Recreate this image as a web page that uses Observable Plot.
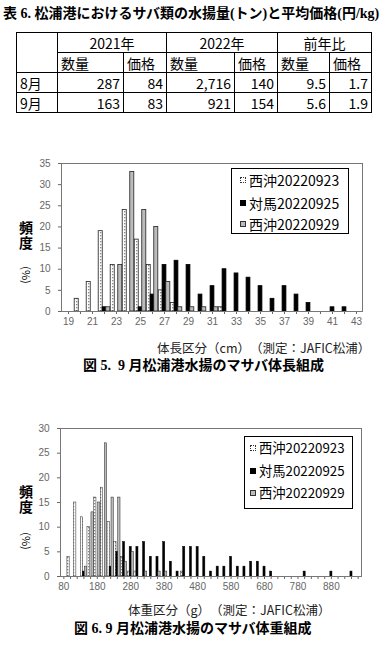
<!DOCTYPE html>
<html><head><meta charset="utf-8">
<script src="https://cdn.jsdelivr.net/npm/d3@7"></script>
<script src="https://cdn.jsdelivr.net/npm/@observablehq/plot@0.6"></script>
<style>
body{margin:0;background:#fff;}
#root{position:relative;width:383px;height:652px;overflow:hidden;font-family:"Noto Sans CJK JP",sans-serif;color:#000;background:#fff}
.abs{position:absolute;white-space:nowrap}
.title{font-family:"Liberation Serif","Noto Sans CJK JP",serif;font-weight:bold}
table{position:absolute;left:16px;top:32px;border-collapse:collapse;table-layout:fixed;font:14px "Noto Sans CJK JP",sans-serif;border:1.5px solid #000}
td{border:1px solid #000;height:19px;padding:0 3px;line-height:18px;white-space:nowrap;overflow:hidden}
td.c{text-align:center}td.r{text-align:right}td.l{text-align:left}
.legend{position:absolute;border:1px solid #000;background:#fff}
.item{position:absolute;left:8px;font:14px "Noto Sans CJK JP",sans-serif;line-height:14px;display:flex;align-items:center;white-space:nowrap}
.legend.small .item{font-size:13.3px;left:5px}
.sw{display:inline-block;width:6px;height:6px;margin-right:3px;box-sizing:border-box;flex:none}
.sw.dots{border:1.5px dotted #333;background:#fff}
.sw.blk{background:#000}
.sw.gry{background:#bbb;border:1px solid #333}
.ylab{position:absolute;writing-mode:vertical-rl;font:bold 14px "Noto Sans CJK JP",sans-serif;line-height:14px;letter-spacing:1px}
.pct{position:absolute;font:11px "Noto Sans CJK JP",sans-serif;transform:translate(-50%,-50%) rotate(90deg);line-height:11px;white-space:nowrap}
.xt{position:absolute;font:12.5px "Noto Sans CJK JP",sans-serif;line-height:13px;color:#222;white-space:nowrap}
</style></head>
<body>
<svg width="0" height="0" style="position:absolute">
  <defs>
    <pattern id="dots" width="3" height="3" patternUnits="userSpaceOnUse">
      <rect width="3" height="3" fill="#fff"/>
      <rect x="1" y="1" width="1.3" height="1.3" fill="#888"/>
    </pattern>
  </defs>
</svg>
<div id="root">
  <div class="abs title" style="left:3px;top:5px;font-size:14px;line-height:18px">表 6. 松浦港におけるサバ類の水揚量(トン)と平均価格(円/kg)</div>
  <table>
    <colgroup><col style="width:41px"><col style="width:66px"><col style="width:43px"><col style="width:68px"><col style="width:43px"><col style="width:52px"><col style="width:42px"></colgroup>
    <tr><td rowspan="2"></td><td class="c" colspan="2">2021年</td><td class="c" colspan="2">2022年</td><td class="c" colspan="2">前年比</td></tr>
    <tr><td class="l">数量</td><td class="l">価格</td><td class="l">数量</td><td class="l">価格</td><td class="l">数量</td><td class="l">価格</td></tr>
    <tr id="r8"></tr>
    <tr id="r9"></tr>
  </table>

  <div id="c1" class="abs" style="left:0;top:150px"></div>
  <div class="ylab" style="left:19px;top:221px">頻度</div>
  <div class="pct" style="left:26px;top:275px">(%)</div>
  <div class="legend" style="left:231px;top:168px;width:116px;height:64px">
    <div class="item" style="top:4px"><span class="sw dots"></span><span class="s1"></span></div>
    <div class="item" style="top:27px"><span class="sw blk"></span><span class="s2"></span></div>
    <div class="item" style="top:48px"><span class="sw gry"></span><span class="s3"></span></div>
  </div>
  <div class="xt" style="left:157px;top:341px">体長区分（cm）　（測定：JAFIC松浦）</div>
  <div class="abs title" style="left:83px;top:357px;font-size:14px;line-height:18px">図 5.&nbsp; 9 月松浦港水揚のマサバ体長組成</div>

  <div id="c2" class="abs" style="left:0;top:415px"></div>
  <div class="ylab" style="left:19px;top:485px">頻度</div>
  <div class="pct" style="left:26px;top:541px">(%)</div>
  <div class="legend small" style="left:244px;top:436px;width:107px;height:71px">
    <div class="item" style="top:4px"><span class="sw dots"></span><span class="s1"></span></div>
    <div class="item" style="top:27px"><span class="sw blk"></span><span class="s2"></span></div>
    <div class="item" style="top:49px"><span class="sw gry"></span><span class="s3"></span></div>
  </div>
  <div class="xt" style="left:128px;top:603px">体重区分（g）　（測定：JAFIC松浦）</div>
  <div class="abs title" style="left:74px;top:620px;font-size:14px;line-height:18px">図 6. 9 月松浦港水揚のマサバ体重組成</div>
</div>
<script>
// ---- table data ----
const months = ["8月", "9月"];
const qty2021 = ["287", "163"];
const price2021 = ["84", "83"];
const qty2022 = ["2,716", "921"];
const price2022 = ["140", "154"];
const qtyRatio = ["9.5", "5.6"];
const priceRatio = ["1.7", "1.9"];

// ---- series names ----
const seriesNames = ["西沖20220923", "対馬20220925", "西沖20220929"];

// ---- Fig 5: body length (cm) ----
const lengthClasses = [19,20,21,22,23,24,25,26,27,28,29,30,31,32,33,34,35,36,37,38,39,40,41,42,43];
const lengthTickLabels = [19,21,23,25,27,29,31,33,35,37,39,41,43];
const nishi0923Len = [0,3,7,19,11,24,17,11,5,2,0,0,0,1,0,0,0,0,0,0,0,0,0,0,0];
const tsushima0925Len = [0,0,0,1,0,0,1,4,11,12,11,4,6,10,9,8,6,3,6,4,2,0,1,1,0];
const nishi0929Len = [0,0,0,1,11,33,24,20,7,1,1,1,1,0,0,0,0,0,0,0,0,0,0,0,0];
const freqTicks1 = [0,5,10,15,20,25,30,35];

// ---- Fig 6: body weight (g) ----
const weightClasses = [80,100,120,140,160,180,200,220,240,260,280,300,320,340,360,380,400,420,440,460,480,500,520,540,560,580,600,620,640,660,680,700,720,740,760,780,800,820,840,860,880,900,920,940,960];
const weightTickLabels = [80,180,280,380,480,580,680,780,880];
const nishi0923Wt = [0,4,15,12,10,16,18,11,7,4,1,1,0,0,0,0,0,0,1,0,0,0,0,0,0,0,0,0,0,0,0,0,0,0,0,0,0,0,0,0,0,0,0,0,0];
const tsushima0925Wt = [0,0,0,1,0,0,0,2,5,7,6,6,7,4,4,7,3,1,6,6,6,4,1,2,2,4,2,2,3,3,2,1,0,0,0,0,1,0,0,0,1,0,0,1,0];
const nishi0929Wt = [0,0,0,2,13,15,27,16,16,3,5,0,1,0,1,1,0,0,0,0,0,0,0,0,0,0,0,0,0,0,0,0,0,0,0,0,0,0,0,0,0,0,0,0,0];
const freqTicks2 = [0,5,10,15,20,25,30];

// fill table
function fillRow(id, i) {
  const tr = document.getElementById(id);
  const cells = [[months[i],"l"],[qty2021[i],"r"],[price2021[i],"r"],[qty2022[i],"r"],[price2022[i],"r"],[qtyRatio[i],"r"],[priceRatio[i],"r"]];
  for (const [t, cls] of cells) { const td = document.createElement("td"); td.className = cls; td.textContent = t; tr.appendChild(td); }
}
fillRow("r8", 0); fillRow("r9", 1);
document.querySelectorAll(".s1").forEach(e => e.textContent = seriesNames[0]);
document.querySelectorAll(".s2").forEach(e => e.textContent = seriesNames[1]);
document.querySelectorAll(".s3").forEach(e => e.textContent = seriesNames[2]);

const rows = (cats, vals) => cats.map((c, i) => ({c, v: vals[i]}));

function histo(cats, labels, a, b, c, yMax, yTicks, ml, mr, w, strokeW) {
  const g = 0.2;
  const side = w - 2 * g - (w - 2 * g) / 3;
  return Plot.plot({
    width: 383, height: 185,
    marginTop: 13, marginBottom: 24, marginLeft: ml, marginRight: mr,
    style: {fontFamily: "'Liberation Sans', Arial, sans-serif", fontSize: "10px", color: "#666", background: "none", overflow: "visible"},
    x: {type: "band", domain: cats, padding: 0, label: null, tickSize: 3, tickPadding: 3,
        tickFormat: d => labels.includes(d) ? String(d) : ""},
    y: {domain: [0, yMax], ticks: yTicks, tickSize: 3, tickPadding: 8, label: null},
    marks: [
      Plot.barY(rows(cats, a), {filter: d => d.v > 0, x: "c", y: "v", fill: "url(#dots)", stroke: "#222", strokeWidth: strokeW, insetLeft: g, insetRight: side}),
      Plot.barY(rows(cats, b), {filter: d => d.v > 0, x: "c", y: "v", fill: "#000", stroke: "#000", strokeWidth: strokeW, insetLeft: side / 2 + g, insetRight: side / 2 + g}),
      Plot.barY(rows(cats, c), {filter: d => d.v > 0, x: "c", y: "v", fill: "#bbb", stroke: "#222", strokeWidth: strokeW, insetLeft: side, insetRight: g}),
      Plot.frame({stroke: "#777"})
    ]
  });
}

const w1 = (383 - 61 - 21) / lengthClasses.length;
document.getElementById("c1").appendChild(histo(lengthClasses, lengthTickLabels, nishi0923Len, tsushima0925Len, nishi0929Len, 35, freqTicks1, 61, 21, w1, 0.8));
const w2 = (383 - 60 - 22) / weightClasses.length;
document.getElementById("c2").appendChild(histo(weightClasses, weightTickLabels, nishi0923Wt, tsushima0925Wt, nishi0929Wt, 30, freqTicks2, 60, 22, w2, 0.5));
</script>
</body></html>
